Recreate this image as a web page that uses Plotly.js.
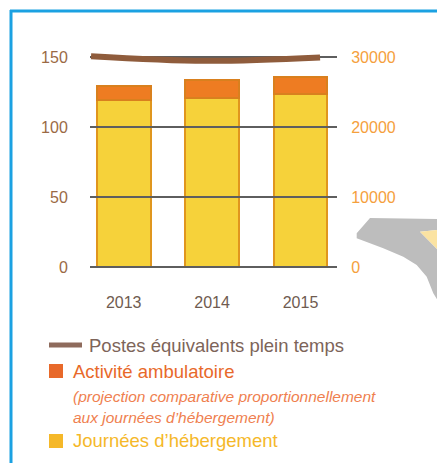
<!DOCTYPE html>
<html>
<head>
<meta charset="utf-8">
<script src="https://cdn.plot.ly/plotly-3.0.1.min.js"></script>
<style>html,body{margin:0;padding:0;background:#fff;}#chart{width:437px;height:463px;}</style>
</head>
<body>
<div id="chart"></div>
<script>
// ---- data ----
var years = ['2013', '2014', '2015'];
var journees = [23900, 24200, 24700];      // Journées d'hébergement (right axis)
var ambulatoire = [2000, 2500, 2450];      // Activité ambulatoire (right axis, stacked)
var postes = [150.7, 147.4, 149.8];        // Postes équivalents plein temps (left axis)
var leftTicks = [0, 50, 100, 150];
var rightTicks = [0, 10000, 20000, 30000];

// ---- layout helpers (pixel -> paper) ----
var W = 437, H = 463, ML = 90, MR = 100, MT = 46, MB = 179;
var PW = W - ML - MR, PH = H - MT - MB;
function px(x) { return (x - ML) / PW; }
function py(y) { return (H - MB - y) / PH; }

var FONT = 'Liberation Sans, Arial, Helvetica, sans-serif';

var traces = [
  {
    type: 'bar', name: "Journées d'hébergement",
    x: years, y: journees, xaxis: 'x', yaxis: 'y2',
    marker: {color: '#F6D23A', line: {color: '#E0961E', width: 2}},
    hoverinfo: 'y'
  },
  {
    type: 'bar', name: 'Activité ambulatoire',
    x: years, y: ambulatoire, xaxis: 'x', yaxis: 'y2',
    marker: {color: '#EE7C22', line: {color: '#D9801E', width: 2}},
    hoverinfo: 'y'
  },
  {
    type: 'scatter', mode: 'lines', name: 'Postes équivalents plein temps',
    x: years, y: postes, xaxis: 'x2', yaxis: 'y',
    line: {color: '#8F5C3C', width: 6, shape: 'spline'},
    hoverinfo: 'y'
  }
];

function gray(pts) {
  return 'M ' + pts.map(function (p) { return px(p[0]) + ',' + py(p[1]); }).join(' L ') + ' Z';
}

var shapes = [
  // blue frame
  {type: 'line', xref: 'paper', yref: 'paper', x0: px(10), x1: px(438), y0: py(11), y1: py(11), line: {color: '#1BA1E2', width: 3}},
  {type: 'line', xref: 'paper', yref: 'paper', x0: px(11), x1: px(11), y0: py(10), y1: py(466), line: {color: '#1BA1E2', width: 3}},
  // decorative gray shape on the right
  {type: 'path', xref: 'paper', yref: 'paper', layer: 'below',
   path: gray([[370, 218], [438, 219], [438, 230], [420, 231.7], [438, 250], [438, 301], [433.3, 293.3], [426.7, 276.7], [416.7, 265], [403.3, 256.7], [383.3, 248.3], [356.7, 238.3], [356.7, 233.3]]),
   fillcolor: '#BDBDBD', line: {width: 0}},
  {type: 'path', xref: 'paper', yref: 'paper', layer: 'below',
   path: gray([[420, 231.7], [438, 230], [438, 250]]),
   fillcolor: '#FBE3A2', line: {width: 0}},
  // legend markers
  {type: 'rect', xref: 'paper', yref: 'paper', x0: px(49), x1: px(82), y0: py(342.5), y1: py(347.5), fillcolor: '#8E6B5C', line: {width: 0}},
  {type: 'rect', xref: 'paper', yref: 'paper', x0: px(49), x1: px(63), y0: py(364), y1: py(378), fillcolor: '#E8692A', line: {width: 0}},
  {type: 'rect', xref: 'paper', yref: 'paper', x0: px(49), x1: px(63), y0: py(434), y1: py(448), fillcolor: '#F5B829', line: {width: 0}}
];

function ann(text, x, y, color, size, italic) {
  return {xref: 'paper', yref: 'paper', x: px(x), y: py(y), xanchor: 'left', yanchor: 'middle',
          text: italic ? '<i>' + text + '</i>' : text, showarrow: false,
          font: {family: FONT, size: size, color: color}};
}

var annotations = [
  ann('Postes équivalents plein temps', 87, 345, '#7D6459', 18.5),
  ann('Activité ambulatoire', 71, 371, '#E8692A', 18.5),
  ann('(projection comparative proportionnellement', 71, 396, '#EF7F4F', 15.5, true),
  ann('aux journées d’hébergement)', 71, 417, '#EF7F4F', 15.5, true),
  ann('Journées d’hébergement', 71, 441, '#F5B829', 18.5)
];

var layout = {
  width: W, height: H,
  margin: {l: ML, r: MR, t: MT, b: MB, pad: 0},
  paper_bgcolor: '#ffffff', plot_bgcolor: 'rgba(0,0,0,0)',
  showlegend: false,
  barmode: 'stack', bargap: 0.39,
  font: {family: FONT},
  xaxis: {
    type: 'category', range: [-0.381, 2.413], fixedrange: true,
    showgrid: false, zeroline: false, showline: false,
    ticks: 'outside', ticklen: 4, tickcolor: 'rgba(0,0,0,0)',
    tickfont: {family: FONT, size: 16, color: '#6F5B50'}
  },
  xaxis2: {
    type: 'category', overlaying: 'x', range: [-0.009, 2.148], visible: false, fixedrange: true
  },
  yaxis: {
    range: [-12, 158], tickvals: leftTicks, ticktext: leftTicks.map(String),
    showgrid: true, gridcolor: '#5E5E5E', gridwidth: 2, zeroline: false, showline: false,
    ticks: 'outside', ticklen: 18, tickcolor: 'rgba(0,0,0,0)',
    tickfont: {family: FONT, size: 16, color: '#9B6A45'}, fixedrange: true
  },
  yaxis2: {
    overlaying: 'y', side: 'right', range: [-2400, 31600],
    tickvals: rightTicks, ticktext: rightTicks.map(String),
    showgrid: false, zeroline: false, showline: false,
    ticks: 'outside', ticklen: 10, tickcolor: 'rgba(0,0,0,0)',
    tickfont: {family: FONT, size: 16, color: '#F5A03C'}, fixedrange: true
  },
  shapes: shapes,
  annotations: annotations
};

Plotly.newPlot('chart', traces, layout, {displayModeBar: false, staticPlot: true});
</script>
</body>
</html>
